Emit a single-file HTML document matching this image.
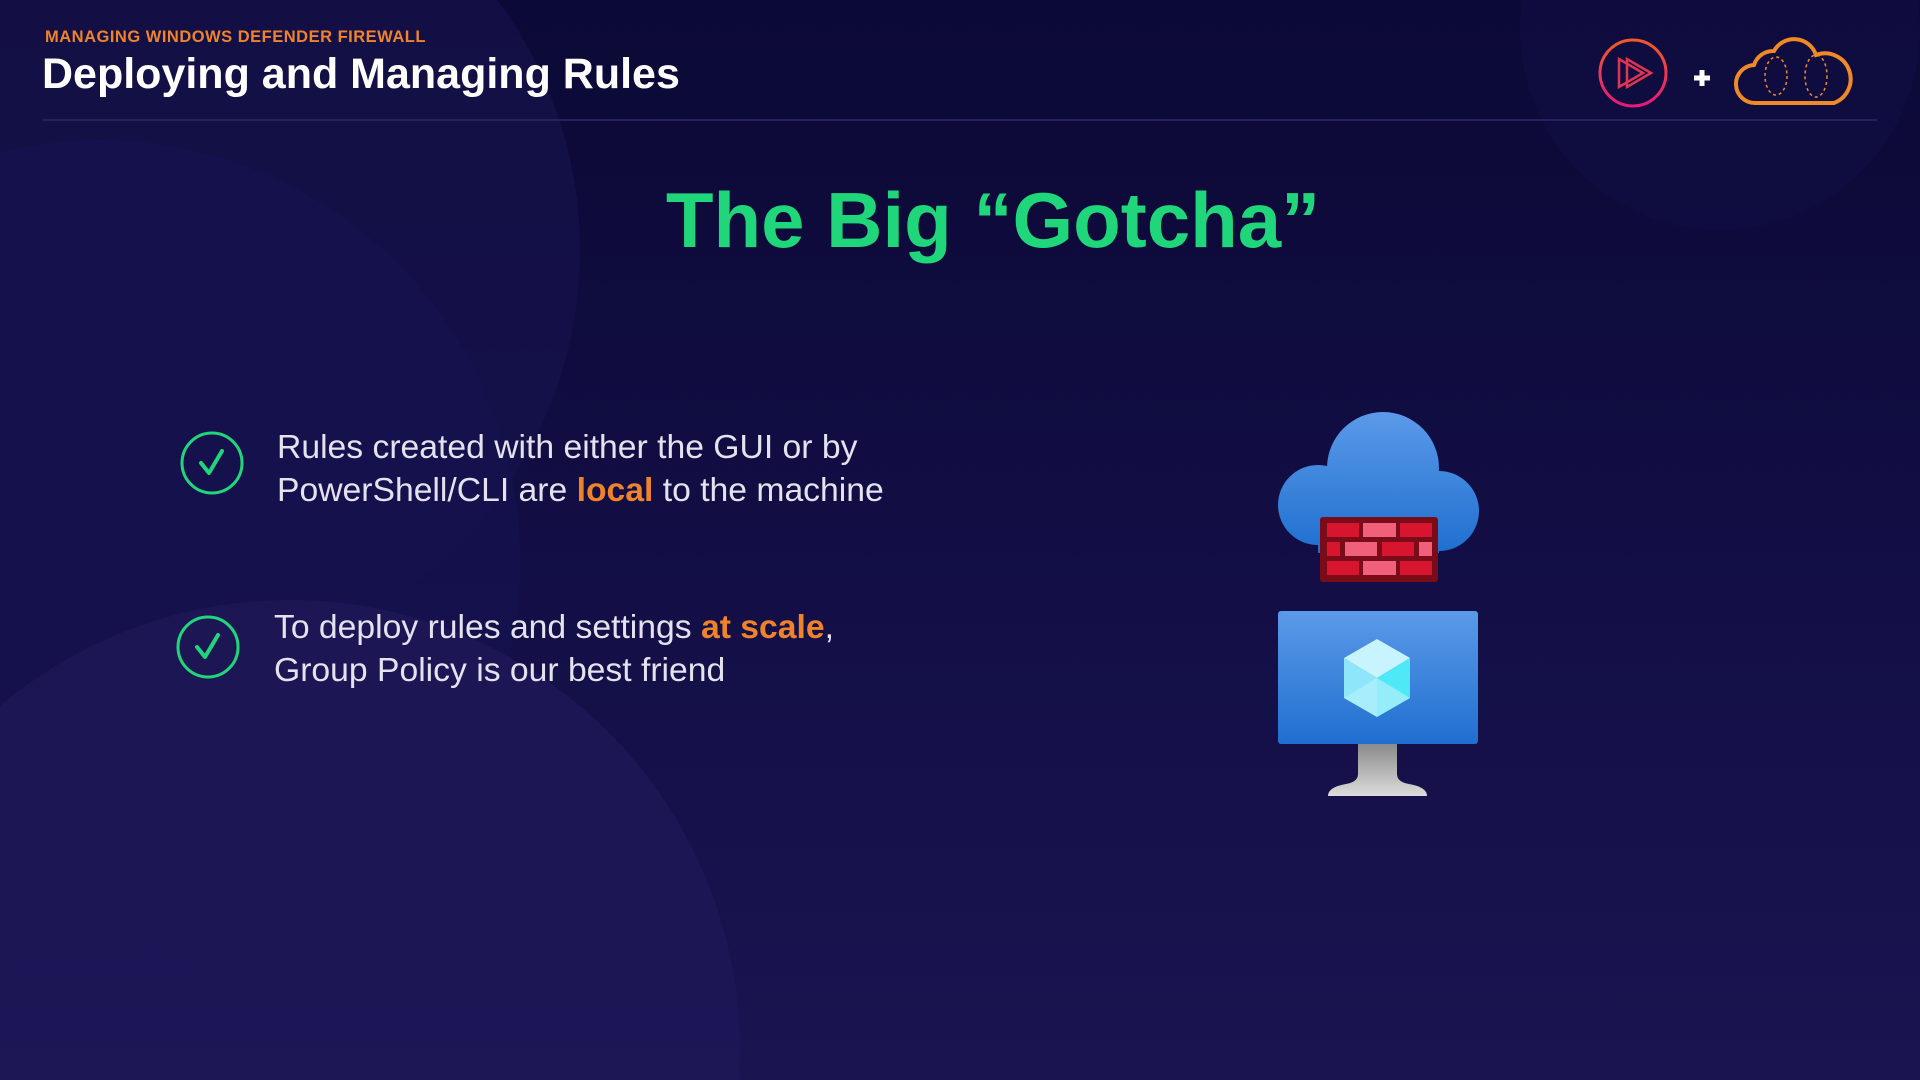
<!DOCTYPE html>
<html><head><meta charset="utf-8"><style>
html,body{margin:0;padding:0;width:1920px;height:1080px;overflow:hidden;}
body{position:relative;font-family:"Liberation Sans",sans-serif;background:linear-gradient(180deg,#0b0935 0%,#120e45 50%,#1a1450 100%);}
.t{position:absolute;white-space:nowrap;}
</style></head><body>
<svg width="1920" height="1080" style="position:absolute;left:0;top:0;overflow:hidden">
<defs>
<linearGradient id="bl" gradientUnits="userSpaceOnUse" x1="0" y1="412" x2="0" y2="553"><stop offset="0" stop-color="#5b9ae8"/><stop offset="1" stop-color="#1f6fd0"/></linearGradient>
<linearGradient id="bl2" gradientUnits="userSpaceOnUse" x1="0" y1="611" x2="0" y2="744"><stop offset="0" stop-color="#5b9ae8"/><stop offset="1" stop-color="#1f6fd0"/></linearGradient>
<linearGradient id="st" x1="0" y1="0" x2="0" y2="1"><stop offset="0" stop-color="#8a8a8a"/><stop offset="1" stop-color="#dcdcdc"/></linearGradient>
<linearGradient id="pg" x1="0" y1="0" x2="0" y2="1"><stop offset="0" stop-color="#f05a28"/><stop offset="1" stop-color="#e8197a"/></linearGradient>
</defs>
<circle cx="160" cy="250" r="420" fill="#15114a" opacity="0.8"/>
<circle cx="100" cy="560" r="420" fill="#161250" opacity="0.6"/>
<circle cx="290" cy="1050" r="450" fill="#1e1858" opacity="0.8"/>
<circle cx="1720" cy="30" r="200" fill="#100c42" opacity="0.8"/>
<line x1="43" y1="120" x2="1877" y2="120" stroke="#29215e" stroke-width="2"/>
<circle cx="1633" cy="73" r="33" fill="none" stroke="url(#pg)" stroke-width="3"/>
<path d="M1619 59 L1619 87 L1643 73 Z M1627 59 L1627 87 L1651 73 Z" fill="none" stroke="#e03550" stroke-width="2.5"/>
<path d="M1702 70 v16 M1694 78 h16" stroke="#fff" stroke-width="5"/>
<path d="M1756 103 a19 19 0 0 1 -2 -38 a20 20 0 0 1 20 -14 a23 23 0 0 1 42 4 a21 21 0 0 1 18 48 Z" fill="none" stroke="#f08a24" stroke-width="4"/>
<ellipse cx="1776" cy="76" rx="11" ry="19" fill="none" stroke="#f08a24" stroke-width="1.5" stroke-dasharray="3 3"/>
<ellipse cx="1816" cy="76" rx="11" ry="21" fill="none" stroke="#f08a24" stroke-width="1.5" stroke-dasharray="3 3"/>
<circle cx="212" cy="463" r="30" fill="none" stroke="#1fd67a" stroke-width="3"/>
<path d="M201 463 l8 10 l13 -22" fill="none" stroke="#1fd67a" stroke-width="4" stroke-linecap="round" stroke-linejoin="round"/>
<circle cx="208" cy="647" r="30" fill="none" stroke="#1fd67a" stroke-width="3"/>
<path d="M197 647 l8 10 l13 -22" fill="none" stroke="#1fd67a" stroke-width="4" stroke-linecap="round" stroke-linejoin="round"/>
<g fill="url(#bl)">
<circle cx="1383" cy="468" r="56"/>
<circle cx="1318" cy="505" r="40"/>
<circle cx="1439" cy="511" r="40"/>
<rect x="1318" y="495" width="121" height="58"/>
</g>
<rect x="1320" y="517" width="118" height="65" rx="3" fill="#7a0c1a"/>
<g fill="#d8152e">
<rect x="1327" y="523" width="32" height="14"/><rect x="1400" y="523" width="32" height="14"/>
<rect x="1327" y="542" width="13" height="14"/><rect x="1382" y="542" width="32" height="14"/>
<rect x="1327" y="561" width="32" height="14"/><rect x="1400" y="561" width="32" height="14"/>
</g>
<g fill="#f0607a">
<rect x="1363" y="523" width="33" height="14"/>
<rect x="1345" y="542" width="32" height="14"/><rect x="1419" y="542" width="13" height="14"/>
<rect x="1363" y="561" width="33" height="14"/>
</g>
<path d="M1358 744 h39 v30 q0 8 12 10 q18 3 18 12 h-99 q0 -9 18 -12 q12 -2 12 -10 Z" fill="url(#st)"/>
<rect x="1278" y="611" width="200" height="133" rx="3" fill="url(#bl2)"/>
<polygon points="1377,639 1410,658 1377,678 1344,658" fill="#c8f4ff"/>
<polygon points="1344,658 1377,678 1377,717 1344,698" fill="#8ee6fa"/>
<polygon points="1410,658 1377,678 1377,717 1410,698" fill="#4ee8f6"/>
<polygon points="1344,698 1377,678 1410,698 1377,717" fill="#b4f0fc" opacity="0.7"/>
</svg>
<div class="t" style="left:45px;top:28px;font-size:16.5px;font-weight:bold;color:#f0832a;letter-spacing:0.5px">MANAGING WINDOWS DEFENDER FIREWALL</div>
<div class="t" style="left:42px;top:50px;font-size:43px;font-weight:bold;color:#fff">Deploying and Managing Rules</div>
<div class="t" style="left:0;width:1986px;text-align:center;top:175px;font-size:78px;font-weight:bold;color:#1fd67a">The Big “Gotcha”</div>
<div class="t" style="left:277px;top:426px;font-size:33.7px;line-height:43px;color:#e4e2ee">Rules created with either the GUI or by<br>PowerShell/CLI are <b style="color:#f0832a">local</b> to the machine</div>
<div class="t" style="left:274px;top:606px;font-size:33.7px;line-height:43px;color:#e4e2ee">To deploy rules and settings <b style="color:#f0832a">at scale</b>,<br>Group Policy is our best friend</div>
</body></html>
